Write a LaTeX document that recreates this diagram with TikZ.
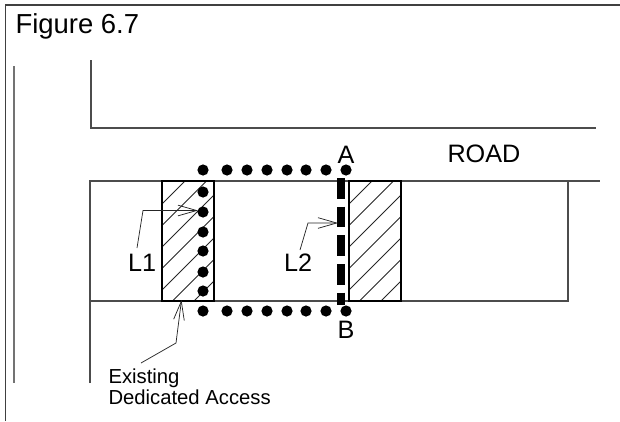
\documentclass[tikz,border=0pt]{standalone}
\usepackage{fontspec}
\setmainfont{Liberation Sans}
\usetikzlibrary{arrows.meta}
\tikzset{
  px/.style={x=0.75pt,y=-0.75pt},
  frameline/.style={draw=black!75,line width=1.2pt},
  roadline/.style={draw=black!70,line width=0.8pt},
  parcel/.style={draw=black,line width=1pt,fill=none,inner sep=0pt,outer sep=0pt,minimum width=39pt,minimum height=90pt},
  hatchline/.style={draw=black!85,line width=0.55pt},
  leader/.style={draw=black!85,line width=0.55pt},
  leadarrow/.style={leader,-{Straight Barb[length=14pt,width=8pt,line width=0.55pt]}},
  dotmark/.style={circle,fill=black,inner sep=0pt,outer sep=0pt,minimum size=8.4pt},
  bigdash/.style={draw=black,line width=5.5pt,dash pattern=on 15.4pt off 6.1pt},
  lab/.style={inner sep=0pt,outer sep=0pt,anchor=base west,text=black},
}
\begin{document}
\begin{tikzpicture}[px]
\useasboundingbox (0,0) rectangle (620,421);
% frame
\coordinate (fa) at (5.5,421);
\coordinate (fb) at (5.5,5);
\coordinate (fc) at (620,5);
\draw[frameline] (fa) -- (fb) -- (fc);
% far-left line and upper road edge
\coordinate (la) at (14,66);
\coordinate (lb) at (14,383);
\draw[roadline,black!55,line width=1pt] (la) -- (lb);
\coordinate (ua) at (91,60);
\coordinate (ub) at (91,128);
\coordinate (uc) at (596,128);
\draw[roadline] (ua) -- (ub) -- (uc);
% lower road edge and lot
\coordinate (ra) at (90,383);
\coordinate (rb) at (90,181);
\coordinate (rc) at (600,181);
\draw[roadline] (ra) -- (rb) -- (rc);
\coordinate (rd) at (90,301);
\coordinate (re) at (568,301);
\coordinate (rf) at (568,181);
\draw[roadline] (rd) -- (re) -- (rf);
% hatching
\begin{scope}
\clip (162,181) rectangle (214,301);
\foreach \k in {0,...,6}
  \draw[hatchline] ({366+21.5*\k-181},181) -- ({366+21.5*\k-301},301);
\end{scope}
\begin{scope}
\clip (349,181) rectangle (401,301);
\foreach \k in {0,...,6}
  \draw[hatchline] ({553+21.5*\k-181},181) -- ({553+21.5*\k-301},301);
\end{scope}
\node[parcel] (p1) at (188,241) {};
\node[parcel] (p2) at (375,241) {};
% dots
\foreach \x [count=\i] in {203,227,247,267,287,306,326,346} {
  \node[dotmark] (t\i) at (\x,170) {};
  \node[dotmark] (b\i) at (\x,311) {};
}
\foreach \y [count=\i] in {192,212,232,251,272,291}
  \node[dotmark] (s\i) at (203,\y) {};
% thick dashed line
\coordinate (da) at (341,178);
\coordinate (db) at (341,305);
\draw[bigdash] (da) -- (db);
% labels
\node[lab,font=\fontsize{20.6pt}{24pt}\selectfont] (fig) at (15.5,33) {Figure 6.7};
\node[lab,font=\fontsize{18.9pt}{22pt}\selectfont] (road) at (447.5,162) {ROAD};
\node[lab,font=\fontsize{18.9pt}{22pt}\selectfont,anchor=base] (A) at (346,163) {A};
\node[lab,font=\fontsize{18.9pt}{22pt}\selectfont,anchor=base] (B) at (346,338) {B};
\node[lab,font=\fontsize{18.9pt}{22pt}\selectfont] (L1) at (128,271) {L1};
\node[lab,font=\fontsize{18.9pt}{22pt}\selectfont] (L2) at (284,271) {L2};
\node[lab,font=\fontsize{15.2pt}{19pt}\selectfont] (ex) at (108.5,383) {Existing};
\node[lab,font=\fontsize{15.2pt}{19pt}\selectfont] (ded) at (108.5,404) {Dedicated Access};
% leaders
\coordinate (l1a) at (137,248);
\coordinate (l1b) at (143,210.5);
\coordinate (l1c) at (198,210.5);
\draw[leadarrow] (l1a) -- (l1b) -- (l1c);
\coordinate (l2a) at (300,250);
\coordinate (l2b) at (308,223);
\coordinate (l2c) at (338,223);
\draw[leadarrow] (l2a) -- (l2b) -- (l2c);
\coordinate (ea) at (141,363);
\coordinate (eb) at (176,343);
\coordinate (ec) at (181.5,300);
\draw[leadarrow] (ea) -- (eb) -- (ec);
\end{tikzpicture}
\end{document}
